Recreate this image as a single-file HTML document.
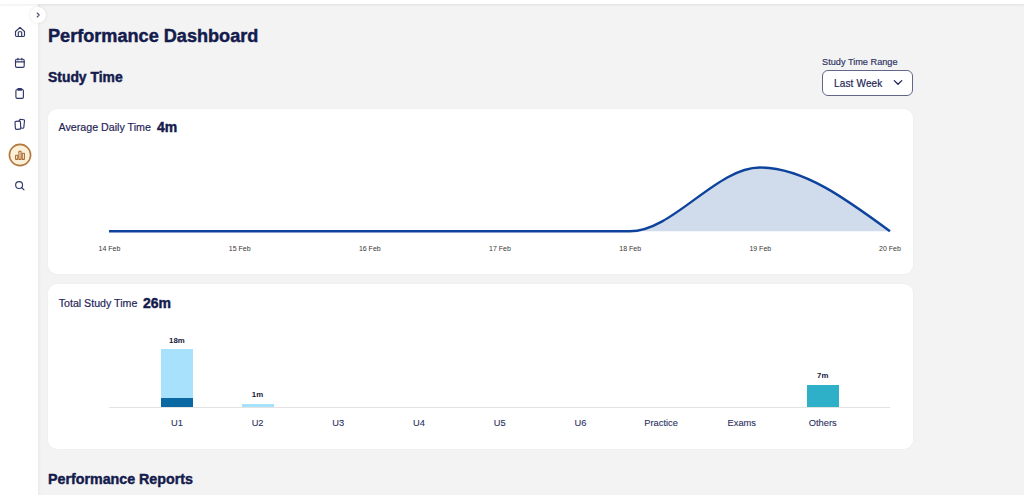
<!DOCTYPE html>
<html><head><meta charset="utf-8">
<style>
*{margin:0;padding:0;box-sizing:border-box}
html,body{width:1024px;height:495px;overflow:hidden;background:#f3f3f3;font-family:"Liberation Sans",sans-serif;color:#141b4d}
.a{position:absolute;white-space:nowrap;line-height:1}
.m{-webkit-text-stroke:0.18px currentColor}
#topbar{position:absolute;left:0;top:0;width:1024px;height:4px;background:#fff;box-shadow:0 1px 3px rgba(0,0,0,0.08);z-index:3}
#side{position:absolute;left:0;top:0;width:38px;height:495px;background:#fff;box-shadow:1px 0 3px rgba(0,0,0,0.05);z-index:2}
#tog{position:absolute;left:30px;top:6.5px;width:16px;height:16px;border-radius:50%;background:#fff;box-shadow:0 0 3px rgba(0,0,0,0.12);z-index:4}
.card{position:absolute;left:48px;width:865px;background:#fff;border-radius:9px;box-shadow:0 0 2px rgba(0,0,0,0.05)}
.b{font-weight:bold;-webkit-text-stroke:0.45px currentColor}
.dl{position:absolute;font-size:7px;color:#383838;line-height:1;width:40px;text-align:center;margin-left:-20px}
.bl{position:absolute;font-size:7.8px;font-weight:bold;color:#15193a;line-height:1;width:30px;text-align:center;margin-left:-15px}
.cl{position:absolute;margin-top:0.5px;font-size:9.3px;color:#2a3060;-webkit-text-stroke:0.1px #2a3060;line-height:1;width:60px;text-align:center;margin-left:-30px}
</style></head><body>
<div id="topbar"></div>
<div id="side">
  <svg width="38" height="495" style="position:absolute;left:0;top:0" fill="none" stroke="#30376a" stroke-width="1.15" stroke-linejoin="round" stroke-linecap="round">
    <!-- home -->
    <path d="M15.5 31.5 L20 27.3 L24.5 31.5 V35.3 Q24.5 36.5 23.3 36.5 H16.7 Q15.5 36.5 15.5 35.3 Z"/>
    <path d="M18.3 36.5 V32.6 Q18.3 31.7 19.2 31.7 H20.8 Q21.7 31.7 21.7 32.6 V36.5"/>
    <!-- calendar -->
    <rect x="15.5" y="59.2" width="8.7" height="8.2" rx="1.3"/>
    <path d="M15.5 61.9 H24.2 M17.9 58.3 V60 M21.8 58.3 V60"/>
    <!-- clipboard -->
    <rect x="15.9" y="89.5" width="7.5" height="8.9" rx="1.3"/>
    <rect x="17.6" y="88.6" width="4.2" height="1.7" rx="0.8"/>
    <!-- cards -->
    <rect x="15.2" y="121.2" width="5.4" height="8" rx="1" transform="rotate(-4 17.9 125.2)"/>
    <path d="M19.2 121 L19.6 120 Q19.9 119.3 20.6 119.4 L23.8 119.8 Q24.6 120 24.5 120.8 L23.8 127.5 Q23.7 128.2 23 128.2 L20.9 128"/>
    <!-- search -->
    <circle cx="19.1" cy="185" r="3.45"/>
    <path d="M21.6 187.5 L24 189.9"/>
  </svg>
  <!-- active chart icon -->
  <svg width="24" height="24" style="position:absolute;left:8px;top:143.2px" viewBox="0 0 24 24">
    <circle cx="12" cy="12" r="10.6" fill="#fdf0d9" stroke="#b4773f" stroke-width="1.6"/>
    <g fill="none" stroke="#a86a33" stroke-width="1.1">
      <rect x="7.6" y="12.2" width="2.2" height="4.2" rx="0.4"/>
      <rect x="10.9" y="8.2" width="2.2" height="8.2" rx="0.4"/>
      <rect x="14.2" y="10.2" width="2.2" height="6.2" rx="0.4"/>
    </g>
  </svg>
</div>
<div id="tog"><svg width="16" height="16" style="position:absolute;left:0;top:0"><path d="M7.2 6 L9.2 8 L7.2 10" fill="none" stroke="#4a5078" stroke-width="1.1" stroke-linecap="round" stroke-linejoin="round"/></svg></div>

<div id="t1" class="a b" style="left:48px;top:26.8px;font-size:18.12px">Performance Dashboard</div>
<div id="t2" class="a b" style="left:48px;top:71.0px;font-size:13.9px">Study Time</div>
<div id="t3" class="a m" style="left:822px;top:57.9px;font-size:9.2px;color:#2f3563">Study Time Range</div>
<div id="dd" style="position:absolute;left:822px;top:70px;width:91px;height:26px;border:1px solid #62678a;border-radius:6px;background:#fff"></div>
<div id="t4" class="a m" style="left:834px;top:78.9px;font-size:10px;letter-spacing:0.16px;color:#1e2456">Last Week</div>
<svg style="position:absolute;left:893px;top:79px" width="10" height="7"><path d="M1.3 1.6 L5 5.2 L8.7 1.6" fill="none" stroke="#1e2456" stroke-width="1.3" stroke-linecap="round" stroke-linejoin="round"/></svg>

<!-- card 1 -->
<div id="c1" class="card" style="top:108.6px;height:165px"></div>
<div id="t5" class="a m" style="left:58.5px;top:121.6px;font-size:10.7px;color:#1f2557">Average Daily Time</div>
<div id="t6" class="a b" style="left:157px;top:120.2px;font-size:14px">4m</div>
<svg style="position:absolute;left:0;top:0" width="1024" height="495">
  <path d="M109 231.3 L629.7 231.3 C673.1 231.3 716.4 167.5 759.8 167.5 C803.2 167.5 846.6 199.3 890 231.3 Z" fill="#d0dbeb" stroke="none"/>
  <path d="M109 231.3 L629.7 231.3 C673.1 231.3 716.4 167.5 759.8 167.5 C803.2 167.5 846.6 199.3 890 231.3" fill="none" stroke="#0d439c" stroke-width="2.4" stroke-linecap="butt"/>
</svg>
<div class="dl" style="left:109.5px;top:245.2px">14 Feb</div>
<div class="dl" style="left:239.7px;top:245.2px">15 Feb</div>
<div class="dl" style="left:369.8px;top:245.2px">16 Feb</div>
<div class="dl" style="left:500px;top:245.2px">17 Feb</div>
<div class="dl" style="left:630.2px;top:245.2px">18 Feb</div>
<div class="dl" style="left:760.3px;top:245.2px">19 Feb</div>
<div class="dl" style="left:890px;top:245.2px">20 Feb</div>

<!-- card 2 -->
<div id="c2" class="card" style="top:283.8px;height:165.6px"></div>
<div id="t7" class="a m" style="left:58.7px;top:297.7px;font-size:10.65px;color:#1f2557">Total Study Time</div>
<div id="t8" class="a b" style="left:143px;top:295.7px;font-size:14px">26m</div>
<div style="position:absolute;left:109px;top:406.5px;width:781px;height:1px;background:#e3e3e3"></div>
<div style="position:absolute;left:161px;top:349.4px;width:32px;height:48.2px;background:#a8e1fb"></div>
<div style="position:absolute;left:161px;top:397.6px;width:32px;height:9.6px;background:#0a68a3"></div>
<div style="position:absolute;left:241.5px;top:404.1px;width:32px;height:3px;background:#a8e1fb"></div>
<div style="position:absolute;left:806.8px;top:385px;width:32px;height:22.2px;background:#2eb0c8"></div>
<div class="bl" style="left:176.9px;top:336.5px">18m</div>
<div class="bl" style="left:257.5px;top:391.3px">1m</div>
<div class="bl" style="left:822.7px;top:372px">7m</div>
<div class="cl" style="left:176.9px;top:418.7px">U1</div>
<div class="cl" style="left:257.6px;top:418.7px">U2</div>
<div class="cl" style="left:338.3px;top:418.7px">U3</div>
<div class="cl" style="left:419px;top:418.7px">U4</div>
<div class="cl" style="left:499.7px;top:418.7px">U5</div>
<div class="cl" style="left:580.4px;top:418.7px">U6</div>
<div class="cl" style="left:661.1px;top:418.7px">Practice</div>
<div class="cl" style="left:741.8px;top:418.7px">Exams</div>
<div class="cl" style="left:822.7px;top:418.7px">Others</div>

<div id="t9" class="a b" style="left:48px;top:471.7px;font-size:14.25px">Performance Reports</div>
</body></html>
